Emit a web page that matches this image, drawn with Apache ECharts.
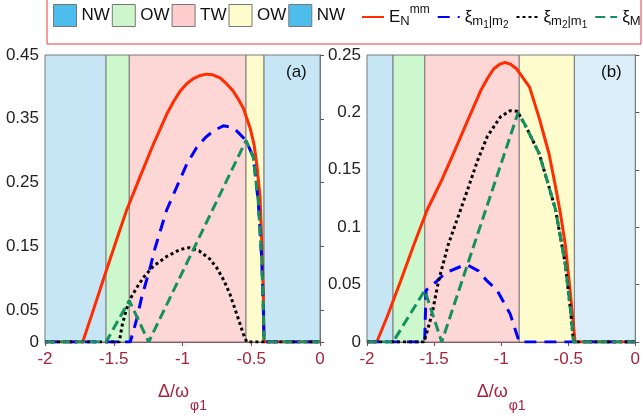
<!DOCTYPE html>
<html>
<head>
<meta charset="utf-8">
<script src="https://cdn.jsdelivr.net/npm/echarts@6/dist/echarts.min.js"></script>
<style>
html, body { margin: 0; padding: 0; background: #fff; }
#chart { width: 643px; height: 418px; }
</style>
</head>
<body>
<div id="chart"></div>
<script>
// x ticks shared by both panels
var xTicks = [-2, -1.5, -1, -0.5, 0]
var yTicksA = [0, 0.05, 0.15, 0.25, 0.35, 0.45]
var yTicksB = [0, 0.05, 0.1, 0.15, 0.2, 0.25]

// region boundaries (NW | OW | TW | OW | NW)
var regionsA = [-2, -1.556, -1.387, -0.538, -0.407, 0]
var regionsB = [-2, -1.806, -1.569, -0.865, -0.454, 0]

// panel (a)
var redA = [[-2, 0], [-1.726, 0], [-1.65, 0.049], [-1.556, 0.111], [-1.48, 0.16], [-1.406, 0.207], [-1.309, 0.259],
    [-1.212, 0.31], [-1.115, 0.357], [-1.065, 0.377], [-1.018, 0.393], [-0.97, 0.405], [-0.921, 0.413], [-0.87, 0.418],
    [-0.824, 0.42], [-0.78, 0.419], [-0.727, 0.414], [-0.68, 0.405], [-0.63, 0.393], [-0.595, 0.381], [-0.558, 0.367],
    [-0.509, 0.336], [-0.48, 0.31], [-0.46, 0.279], [-0.436, 0.228], [-0.424, 0.16], [-0.412, 0.07], [-0.407, 0], [0, 0]]
var blueA = [[-2, 0], [-1.38, 0], [-1.36, 0.015], [-1.333, 0.036], [-1.297, 0.07], [-1.236, 0.116], [-1.2, 0.147],
    [-1.115, 0.207], [-1.042, 0.243], [-0.969, 0.279], [-0.897, 0.305], [-0.836, 0.32], [-0.776, 0.331], [-0.703, 0.339],
    [-0.65, 0.337], [-0.606, 0.331], [-0.538, 0.316], [-0.485, 0.29], [-0.449, 0.22], [-0.424, 0.13], [-0.412, 0.05],
    [-0.407, 0], [0, 0]]
var blackA = [[-2, 0], [-1.46, 0], [-1.44, 0.025], [-1.41, 0.05], [-1.382, 0.067], [-1.333, 0.085], [-1.285, 0.101],
    [-1.212, 0.119], [-1.115, 0.134], [-1.018, 0.145], [-0.95, 0.148], [-0.88, 0.143], [-0.8, 0.13], [-0.75, 0.116],
    [-0.7, 0.097], [-0.655, 0.075], [-0.606, 0.044], [-0.558, 0.013], [-0.533, 0], [0, 0]]
var greenA = [[-2, 0], [-1.556, 0], [-1.387, 0.065], [-1.246, 0], [-0.538, 0.316], [-0.485, 0.29], [-0.449, 0.22],
    [-0.424, 0.13], [-0.412, 0.05], [-0.407, 0], [0, 0]]

// panel (b)
var redB = [[-2, 0], [-1.927, 0], [-1.85, 0.022], [-1.75, 0.053], [-1.65, 0.085], [-1.552, 0.115], [-1.443, 0.141],
    [-1.345, 0.167], [-1.249, 0.193], [-1.152, 0.219], [-1.1, 0.23], [-1.055, 0.238], [-1.01, 0.242], [-0.97, 0.2435],
    [-0.93, 0.242], [-0.885, 0.238], [-0.788, 0.222], [-0.716, 0.195], [-0.643, 0.164], [-0.594, 0.135],
    [-0.558, 0.112], [-0.522, 0.085], [-0.49, 0.05], [-0.465, 0.02], [-0.449, 0], [0, 0]]
var blueB = [[-2, 0], [-1.57, 0], [-1.56, 0.045], [-1.479, 0.053], [-1.418, 0.06], [-1.297, 0.066], [-1.249, 0.067],
    [-1.17, 0.062], [-1.103, 0.053], [-1.03, 0.045], [-0.933, 0.0245], [-0.865, 0], [0, 0]]
var blackB = [[-2, 0], [-1.576, 0], [-1.545, 0.012], [-1.515, 0.0245], [-1.467, 0.053], [-1.394, 0.085],
    [-1.297, 0.117], [-1.249, 0.133], [-1.176, 0.158], [-1.103, 0.179], [-1.006, 0.196], [-0.933, 0.2015],
    [-0.88, 0.201], [-0.812, 0.187], [-0.716, 0.164], [-0.643, 0.135], [-0.594, 0.115], [-0.522, 0.068],
    [-0.48, 0.025], [-0.461, 0], [0, 0]]
var greenB = [[-2, 0], [-1.806, 0], [-1.569, 0.045], [-1.443, 0], [-0.873, 0.2], [-0.812, 0.187], [-0.716, 0.164],
    [-0.643, 0.135], [-0.594, 0.115], [-0.522, 0.068], [-0.48, 0.025], [-0.461, 0], [0, 0]]

var regionNames = ["NW1", "OW1", "TW", "OW2", "NW2"]
var regionFill = ["#c6e6f6", "#cdf7cd", "#fdd6d6", "#fefccd", "#c6e6f6"]
var regionFillB = ["#c6e6f6", "#cdf7cd", "#fdd6d6", "#fefccd", "#daedf9"]
var legendPatch = ["#4dbdeb", "#ccf5cc", "#fdcccc", "#fdfccc", "#4dbdeb"]
var curveNames = ["EN", "xi12", "xi21", "xiM"]

var chart = echarts.init(document.getElementById("chart"), null, { renderer: "canvas" })

var maroon = "#a8324f"
var frameGray = "#707070"
var font = "Liberation Sans"

function xAxes(gi) {
    return [
        {
            gridIndex: gi, type: "value", min: -2, max: 0, interval: 0.5, position: "bottom",
            axisLine: { lineStyle: { color: maroon, width: 1 } },
            axisTick: { inside: true, length: 4, lineStyle: { color: maroon } },
            axisLabel: { color: "#a5243f", fontSize: 17, fontFamily: font, margin: 9 },
            splitLine: { show: false },
            name: "{a|Δ/ω}{b|φ1}",
            nameLocation: "middle",
            nameGap: 41,
            nameTextStyle: {
                rich: {
                    a: { fontSize: 18, fontFamily: font, color: "#a5243f", lineHeight: 30, verticalAlign: "top" },
                    b: { fontSize: 14, fontFamily: font, color: "#a5243f", lineHeight: 14, verticalAlign: "bottom", padding: [0, 0, 0, 1] }
                }
            }
        },
        {
            gridIndex: gi, type: "value", min: -2, max: 0, interval: 0.5, position: "top",
            axisLine: { lineStyle: { color: maroon, width: 1 } },
            axisTick: { inside: true, length: 4, lineStyle: { color: maroon } },
            axisLabel: { show: false },
            splitLine: { show: false }
        }
    ]
}

function yAxes(gi, max, ticks) {
    return [
        {
            gridIndex: gi, type: "value", min: 0, max: max, interval: 0.05, position: "left",
            axisLine: { show: true, lineStyle: { color: frameGray } },
            axisTick: { show: true, inside: true, length: 4, customValues: ticks, lineStyle: { color: "#555" } },
            axisLabel: { color: "#222", fontSize: 17, fontFamily: font, margin: 6, customValues: ticks },
            splitLine: { show: false }
        },
        {
            gridIndex: gi, type: "value", min: 0, max: max, interval: 0.05, position: "right",
            axisLine: { show: true, lineStyle: { color: frameGray } },
            axisTick: { show: true, inside: true, length: 4, customValues: ticks, lineStyle: { color: "#555" } },
            axisLabel: { show: false },
            splitLine: { show: false }
        }
    ]
}

function regionSeries(gi, bounds, fills) {
    return regionNames.map(function (name, i) {
        return {
            name: name,
            type: "line",
            xAxisIndex: gi * 2,
            yAxisIndex: gi * 2,
            data: [],
            symbol: "none",
            silent: true,
            markArea: {
                silent: true,
                itemStyle: { color: fills[i], borderColor: "#7a7a7a", borderWidth: 1 },
                data: [[{ xAxis: bounds[i] }, { xAxis: bounds[i + 1] }]]
            }
        }
    })
}

function curveSeries(gi, red, blue, black, green) {
    var base = { type: "line", xAxisIndex: gi * 2, yAxisIndex: gi * 2, symbol: "none", silent: true }
    return [
        Object.assign({}, base, { name: "EN", data: red, lineStyle: { color: "#ff2d00", width: 3 }, itemStyle: { color: "#ff2d00" } }),
        Object.assign({}, base, { name: "xi12", data: blue, lineStyle: { color: "#0000ff", width: 3, type: [12, 8] }, itemStyle: { color: "#0000ff" } }),
        Object.assign({}, base, { name: "xi21", data: black, lineStyle: { color: "#000000", width: 3, type: [3, 3] }, itemStyle: { color: "#000000" } }),
        Object.assign({}, base, { name: "xiM", data: green, lineStyle: { color: "#14915e", width: 3, type: [10, 5] }, itemStyle: { color: "#14915e" } })
    ]
}

var legendLabels = {
    NW1: "{t|NW}", OW1: "{t|OW}", TW: "{t|TW}", OW2: "{t|OW}", NW2: "{t|NW}",
    EN: "{t|E}{s|N}{p|mm}",
    xi12: "{t|ξ}{s|m}{ss|1}{s||m}{ss|2}",
    xi21: "{t|ξ}{s|m}{ss|2}{s||m}{ss|1}",
    xiM: "{t|ξ}{s|M}"
}

var legendRich = {
    t: { fontSize: 17, fontFamily: font, lineHeight: 26, color: "#111" },
    s: { fontSize: 13, fontFamily: font, lineHeight: 13, verticalAlign: "bottom", padding: [0, 0, 2, 0], color: "#111" },
    ss: { fontSize: 10, fontFamily: font, lineHeight: 10, verticalAlign: "bottom", color: "#111" },
    p: { fontSize: 12, fontFamily: font, lineHeight: 12, verticalAlign: "top", color: "#111" }
}

function legendFormatter(name) { return legendLabels[name] }

option = {
    animation: false,
    backgroundColor: "#fff",
    grid: [
        { left: 45, top: 55, width: 275, height: 290 },
        { left: 367, top: 55, width: 275, height: 290 }
    ],
    legend: [
        {
            left: 53, top: 4, padding: 0,
            itemWidth: 23, itemHeight: 22, itemGap: 2,
            selectedMode: false,
            data: regionNames.map(function (n, i) {
                return { name: n, icon: "rect", itemStyle: { color: legendPatch[i], borderColor: "#777", borderWidth: 1 } }
            }),
            formatter: legendFormatter,
            textStyle: { fontFamily: font, rich: legendRich }
        },
        {
            left: 361, top: 4, padding: 0, width: 300,
            itemWidth: 22, itemHeight: 22, itemGap: 7,
            selectedMode: false,
            data: curveNames.map(function (n) {
                return { name: n, itemStyle: { opacity: 0 } }
            }),
            formatter: legendFormatter,
            textStyle: { fontFamily: font, rich: legendRich }
        }
    ],
    graphic: [
        { type: "rect", shape: { x: 47, y: -1, width: 594, height: 45 }, style: { fill: null, stroke: "#e8383d", lineWidth: 1 }, z: 100 },
        { type: "text", left: 286, top: 64, style: { text: "(a)", fontSize: 17, fontFamily: font, fill: "#111" }, z: 100 },
        { type: "text", left: 601, top: 64, style: { text: "(b)", fontSize: 17, fontFamily: font, fill: "#111" }, z: 100 }
    ],
    xAxis: xAxes(0).concat(xAxes(1)),
    yAxis: yAxes(0, 0.45, yTicksA).concat(yAxes(1, 0.25, yTicksB)),
    series: regionSeries(0, regionsA, regionFill)
        .concat(regionSeries(1, regionsB, regionFillB))
        .concat(curveSeries(0, redA, blueA, blackA, greenA))
        .concat(curveSeries(1, redB, blueB, blackB, greenB))
}

option && chart.setOption(option)
</script>
</body>
</html>
